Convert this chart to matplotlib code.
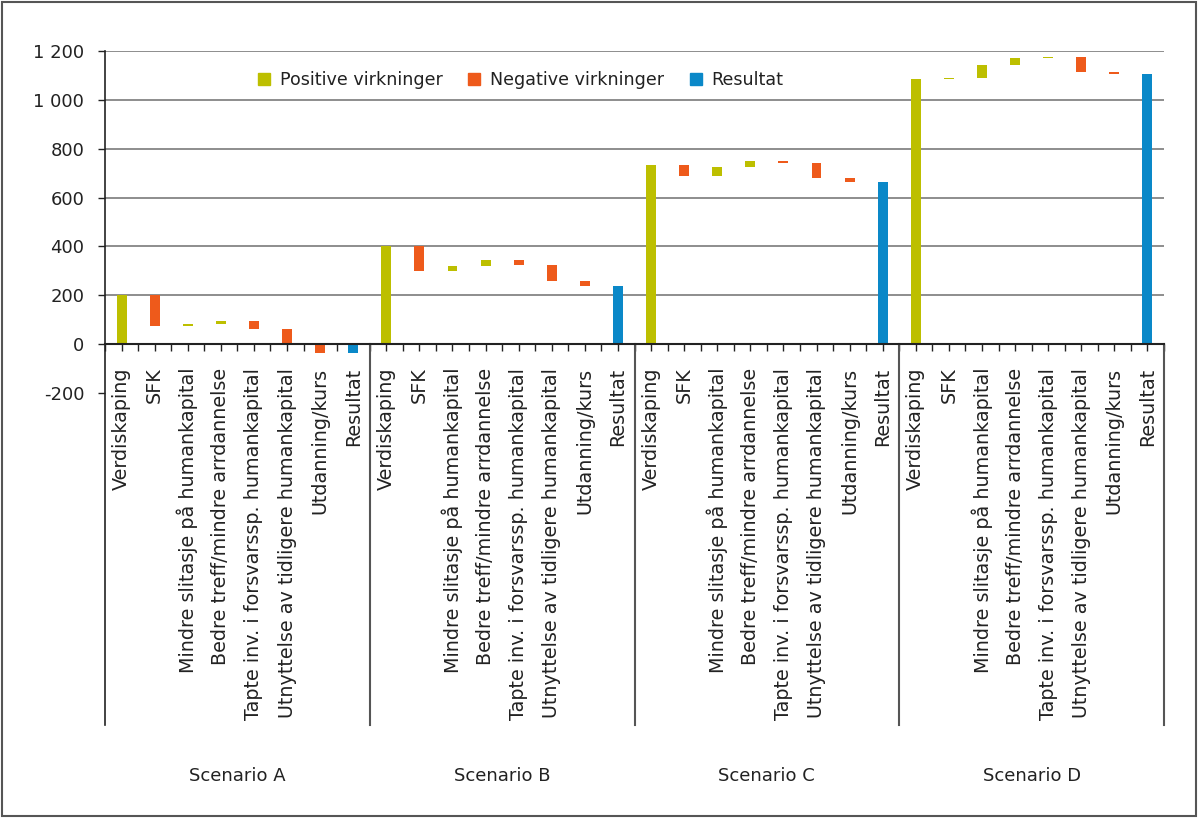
import numpy as np
import matplotlib
matplotlib.use('Agg')
import matplotlib.pyplot as plt
from matplotlib.patches import Patch, Rectangle
import matplotlib.transforms as mtransforms

# category labels (same for each scenario)
steps = ['Verdiskaping', 'SFK', 'Mindre slitasje på humankapital',
         'Bedre treff/mindre arrdannelse', 'Tapte inv. i forsvarssp. humankapital',
         'Utnyttelse av tidligere humankapital', 'Utdanning/kurs']
result_label = 'Resultat'
scenarios = ['Scenario A', 'Scenario B', 'Scenario C', 'Scenario D']

# effect of each step (first one is the starting value)
effects_a = [200, -125, 8, 10, -33, -60, -35]
effects_b = [400, -100, 20, 25, -20, -65, -22]
effects_c = [735, -47, 37, 26, -10, -62, -15]
effects_d = [1085, 3, 55, 29, 4, -63, -9]

y_ticks = [-200, 0, 200, 400, 600, 800, 1000, 1200]
y_tick_labels = ['-200', '0', '200', '400', '600', '800', '1 000', '1 200']
legend_labels = ['Positive virkninger', 'Negative virkninger', 'Resultat']

col_pos = '#BDBF00'
col_neg = '#EE5A1B'
col_res = '#0A88C8'
txt_col = '#222222'


def waterfall(effects):
    # returns bottoms, heights and colors for one scenario, result appended
    bottoms, heights, colors = [], [], []
    level = 0
    for e in effects:
        bottoms.append(level)
        heights.append(e)
        colors.append(col_pos if e >= 0 else col_neg)
        level += e
    bottoms.append(0)
    heights.append(level)
    colors.append(col_res)
    return bottoms, heights, colors


if __name__ == '__main__':
    plt.rcParams['font.family'] = ['DejaVu Sans']
    fig = plt.figure(figsize=(12, 8.18), dpi=100)
    ax = fig.add_axes([105/1200, 1 - 725/818, 1059/1200, 674/818])

    all_bottoms, all_heights, all_colors, labels = [], [], [], []
    for eff in [effects_a, effects_b, effects_c, effects_d]:
        b, h, c = waterfall(eff)
        all_bottoms += b
        all_heights += h
        all_colors += c
        labels += steps + [result_label]

    x = np.arange(len(labels))
    ax.bar(x, all_heights, bottom=all_bottoms, width=0.3, color=all_colors, zorder=3)

    ax.set_xlim(-0.5, len(labels) - 0.5)
    ax.set_ylim(-1560, 1200)

    # gridlines above zero
    for t in y_ticks:
        if t > 0:
            ax.axhline(t, color='#858585', lw=1.3, zorder=1)

    ax.spines['top'].set_visible(False)
    ax.spines['right'].set_visible(False)
    ax.spines['bottom'].set_position(('data', 0))
    ax.spines['bottom'].set_color('#222222')
    ax.spines['bottom'].set_linewidth(1.5)
    ax.spines['bottom'].set_zorder(4)
    ax.spines['left'].set_color('#222222')
    ax.spines['left'].set_linewidth(1.2)

    ax.set_yticks(y_ticks)
    ax.set_yticklabels(y_tick_labels)
    ax.tick_params(axis='y', length=5, width=1, pad=10, labelsize=13, colors=txt_col)

    ax.set_xticks(x)
    ax.set_xticklabels(labels, rotation=90, va='top', ha='center')
    ax.set_xticks(np.arange(-0.5, len(labels), 1), minor=True)
    ax.tick_params(axis='x', which='both', length=5, width=1, direction='out', colors=txt_col)
    ax.tick_params(axis='x', which='major', pad=12, labelsize=13.8)

    # scenario separators and closing line on the right
    n = len(steps) + 1
    for k in range(1, len(scenarios) + 1):
        ax.plot([k * n - 0.5, k * n - 0.5], [0, -1560], color='#555555', lw=1.5,
                clip_on=False, zorder=2)

    trans = mtransforms.blended_transform_factory(ax.transData, ax.transAxes)
    for k, s in enumerate(scenarios):
        ax.text(k * n + (n - 1) / 2, -51/674, s, transform=trans, ha='center', va='center',
                fontsize=13, color=txt_col)

    handles = [Patch(color=col_pos), Patch(color=col_neg), Patch(color=col_res)]
    ax.legend(handles, legend_labels, ncol=3, loc='center left',
              bbox_to_anchor=(153/1059, (725 - 80)/674), frameon=False,
              fontsize=12.6, handlelength=0.7, handleheight=0.7, handletextpad=0.55,
              columnspacing=1.45, borderpad=0, borderaxespad=0, labelcolor=txt_col)

    # outer frame of the figure
    fig.patches.append(Rectangle((0.002, 0.002), 0.995, 0.995, transform=fig.transFigure,
                                 fill=False, edgecolor='#555555', lw=1.5))

    plt.savefig('out.png', dpi=100)
    plt.close()
